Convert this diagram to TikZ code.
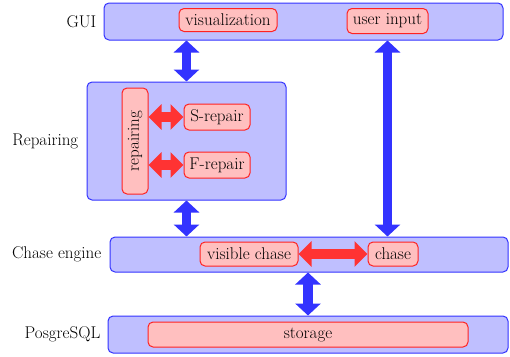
\documentclass[tikz,border=0pt]{standalone}
\usepackage{fontspec}
\usetikzlibrary{arrows.meta,positioning}
\definecolor{boxfill}{HTML}{BFBFFF}
\definecolor{boxdraw}{HTML}{3333FF}
\definecolor{nodefill}{HTML}{FFBFBF}
\definecolor{nodedraw}{HTML}{FF2222}
\definecolor{barrow}{HTML}{3333FF}
\definecolor{rarrow}{HTML}{FF3333}
\tikzset{
  layer/.style={draw=boxdraw, fill=boxfill, line width=1pt, rounded corners=5pt, inner sep=0pt},
  comp/.style={draw=nodedraw, fill=nodefill, line width=1pt, rounded corners=5pt, inner sep=0pt},
  lbl/.style={inner sep=0pt, anchor=east},
  bluearrow/.style={draw=barrow, line width=9.5pt, {Triangle[width=25pt,length=12pt]}-{Triangle[width=25pt,length=12pt]}},
  redarrow/.style={draw=rarrow, line width=10pt, {Triangle[width=25pt,length=13pt]}-{Triangle[width=25pt,length=13pt]}},
}
\begin{document}
\begin{tikzpicture}[x=1pt,y=-1pt,font=\fontsize{17}{20}\selectfont]
\useasboundingbox (0,0) rectangle (510,356);
% layers
\node[layer, minimum width=399pt, minimum height=37pt] (gui) at (303.5,21.5) {};
\node[layer, minimum width=199pt, minimum height=118pt] (rep) at (186.5,141) {};
\node[layer, minimum width=398pt, minimum height=35pt] (ce) at (309,254.5) {};
\node[layer, minimum width=400pt, minimum height=37pt] (pg) at (308,334.5) {};
% labels
\node[lbl] (guil) at ([xshift=-7pt]gui.west) {GUI};
\node[lbl] (repl) at ([xshift=-8pt]rep.west) {Repairing};
\node[lbl] (cel) at ([xshift=-8pt]ce.west) {Chase engine};
\node[lbl] (pgl) at ([xshift=-7pt]pg.west) {PosgreSQL};
% components
\node[comp, minimum width=98pt, minimum height=23pt] (vis) at (228,20) {visualization};
\node[comp, minimum width=81pt, minimum height=25pt] (ui) at (387.5,21) {user input};
\node[comp, minimum width=106pt, minimum height=26pt, rotate=90] (rp) at (135,141) {repairing};
\node[comp, minimum width=66pt, minimum height=26pt] (sr) at (217,117) {S-repair};
\node[comp, minimum width=66pt, minimum height=26pt] (fr) at (217,165) {F-repair};
\node[comp, minimum width=98pt, minimum height=24pt] (vc) at (249,254) {visible chase};
\node[comp, minimum width=50pt, minimum height=24pt] (ch) at (393,254) {chase};
\node[comp, minimum width=320pt, minimum height=25pt] (st) at (308,334.5) {storage};
% blue arrows
\draw[bluearrow] (gui.south -| rep.north) -- (rep.north);
\draw[bluearrow] (rep.south) -- (ce.north -| rep.south);
\draw[bluearrow] (gui.south -| ui.south) -- (ce.north -| ui.south);
\draw[bluearrow] (ce.south -| pg.north) -- (pg.north);
% red arrows
\draw[redarrow] (rp.south |- sr.west) -- (sr.west);
\draw[redarrow] (rp.south |- fr.west) -- (fr.west);
\draw[redarrow] (vc.east) -- (ch.west);
\end{tikzpicture}
\end{document}
